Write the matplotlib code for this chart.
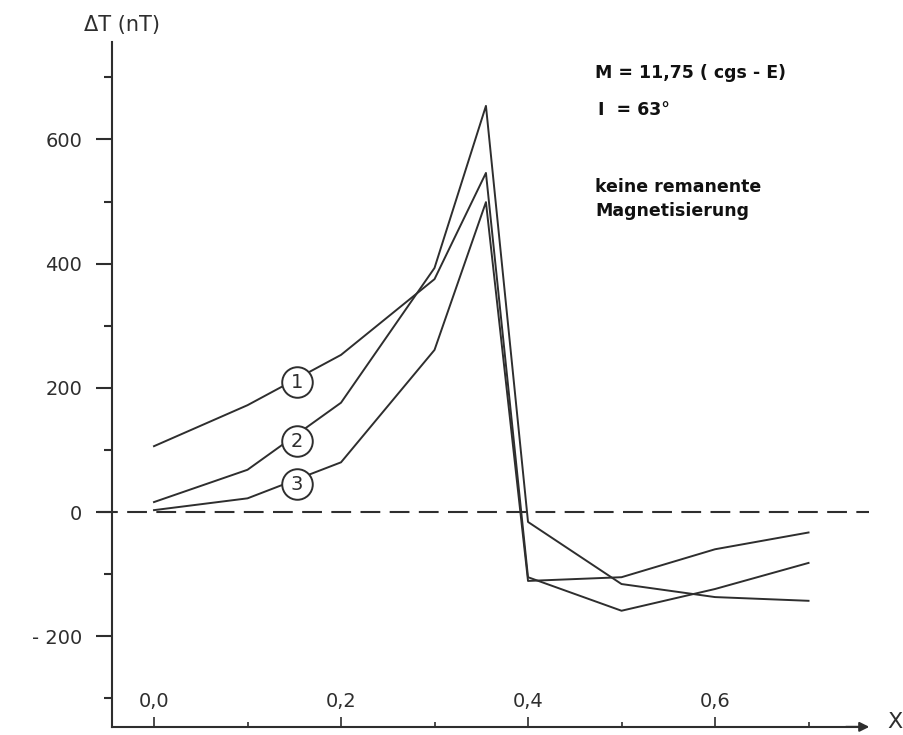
import matplotlib
matplotlib.use("Agg")
import matplotlib.pyplot as plt

# Profilabstand x und Anomalie Delta T (nT) fuer drei Modellkoerper
x = [0.0, 0.1, 0.2, 0.3, 0.355, 0.4, 0.5, 0.6, 0.7]
kurve1 = [106, 172, 253, 375, 546, -105, -159, -124, -82]
kurve2 = [16, 68, 176, 393, 654, -16, -116, -137, -143]
kurve3 = [3, 22, 80, 261, 499, -111, -105, -60, -33]

# Kreismarken an den Kurven
marke_x = [0.153, 0.153, 0.153]
marke_y = [209, 114, 45]
marke_text = ["1", "2", "3"]

y_major = [-200, 0, 200, 400, 600]
y_major_labels = ["- 200", "0", "200", "400", "600"]
y_minor = [-300, -100, 100, 300, 500, 700]
x_major = [0.0, 0.2, 0.4, 0.6]
x_major_labels = ["0,0", "0,2", "0,4", "0,6"]
x_minor = [0.1, 0.3, 0.5, 0.7]

ink = "#2e2e2e"
plt.rcParams["font.family"] = "DejaVu Sans"

fig = plt.figure(figsize=(9.04, 7.35), dpi=100)
ax = fig.add_axes([0, 0, 1, 1])
ax.set_xlim(-0.1647, 0.8021)
ax.set_ylim(-359.1, 824.5)

for s in ["top", "right"]:
    ax.spines[s].set_visible(False)
ax.spines["left"].set_position(("data", -0.045))
ax.spines["left"].set_bounds(-346, 757)
ax.spines["bottom"].set_position(("data", -346))
ax.spines["bottom"].set_bounds(-0.045, 0.76)
for s in ["left", "bottom"]:
    ax.spines[s].set_color(ink)
    ax.spines[s].set_linewidth(1.5)

ax.set_yticks(y_major)
ax.set_yticklabels(y_major_labels)
ax.set_yticks(y_minor, minor=True)
ax.tick_params(axis="y", which="major", direction="out", length=11.5, width=1.5,
               color=ink, labelsize=14, labelcolor=ink, pad=10)
ax.tick_params(axis="y", which="minor", direction="out", length=5.5, width=1.5, color=ink)

ax.set_xticks(x_major)
ax.set_xticklabels(x_major_labels)
ax.set_xticks(x_minor, minor=True)
ax.tick_params(axis="x", which="major", direction="in", length=7, width=1.2,
               color=ink, labelsize=14, labelcolor=ink, pad=-25)
ax.tick_params(axis="x", which="minor", direction="in", length=3.5, width=1.2, color=ink)

# Pfeil am Ende der x-Achse
ax.annotate("", xy=(0.765, -346), xytext=(0.74, -346),
            arrowprops=dict(arrowstyle="-|>", color=ink, lw=1.5,
                            mutation_scale=14, shrinkA=0, shrinkB=0))

# Nulllinie
ax.axhline(0, xmin=(-0.06 + 0.1647) / 0.9668, xmax=(0.765 + 0.1647) / 0.9668,
           color=ink, lw=1.5, dashes=(9.5, 4.5))

for werte in [kurve1, kurve2, kurve3]:
    ax.plot(x, werte, color=ink, lw=1.4, zorder=3)

for mx, my, mt in zip(marke_x, marke_y, marke_text):
    ax.plot(mx, my, "o", ms=22, mfc="white", mec=ink, mew=1.4, zorder=4)
    ax.text(mx, my, mt, ha="center", va="center", fontsize=14, color=ink, zorder=5)

fig.text(122 / 904, 1 - 25 / 735, "ΔT (nT)", ha="center", va="center",
         fontsize=15, color=ink)
fig.text(895 / 904, 1 - 722 / 735, "X", ha="center", va="center",
         fontsize=16, color=ink)

fig.text(595 / 904, 1 - 73 / 735, "M = 11,75 ( cgs - E)", ha="left", va="center",
         fontsize=12.5, fontweight="bold", color="#111111")
fig.text(598 / 904, 1 - 110 / 735, "I  = 63°", ha="left", va="center",
         fontsize=12.5, fontweight="bold", color="#111111")
fig.text(595 / 904, 1 - 187 / 735, "keine remanente", ha="left", va="center",
         fontsize=12.5, fontweight="bold", color="#111111")
fig.text(595 / 904, 1 - 211 / 735, "Magnetisierung", ha="left", va="center",
         fontsize=12.5, fontweight="bold", color="#111111")

fig.savefig("out.png", dpi=100, facecolor="white")
